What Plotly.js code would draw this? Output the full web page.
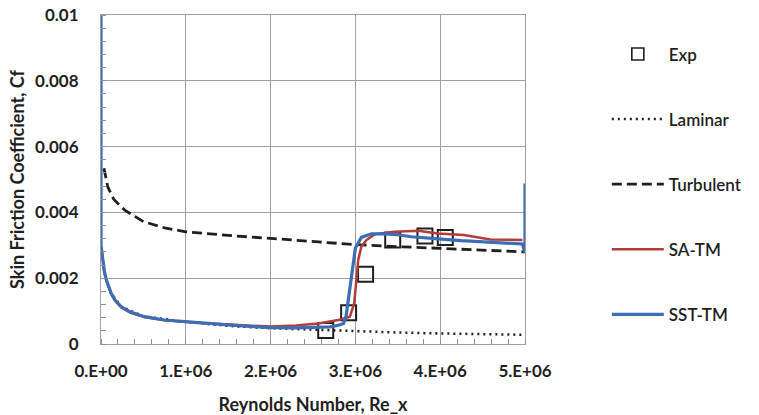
<!DOCTYPE html>
<html>
<head>
<meta charset="utf-8">
<script src="https://cdn.plot.ly/plotly-3.0.1.min.js"></script>
<style>
  html, body { margin: 0; padding: 0; background: #ffffff; }
  #chart { width: 759px; height: 415px; }
</style>
</head>
<body>
<div id="chart"></div>
<script>
// Flat-plate skin friction: experiment, laminar / turbulent correlations and two transition models
const expRe = [2.65e6, 2.92e6, 3.12e6, 3.44e6, 3.82e6, 4.06e6];
const expCf = [0.00041, 0.00095, 0.00212, 0.00316, 0.00328, 0.00324];

const lamRe = [0.06e6, 0.12e6, 0.24e6, 0.5e6, 1.0e6, 1.5e6, 2.0e6, 2.5e6, 3.0e6, 3.5e6, 4.0e6, 4.5e6, 5.0e6];
const lamCf = [0.00195, 0.00154, 0.00113, 0.00084, 0.00067, 0.00055, 0.00048, 0.00043, 0.00038, 0.00035, 0.00032, 0.00030, 0.00028];

const turbRe = [0.035e6, 0.08e6, 0.15e6, 0.28e6, 0.5e6, 0.75e6, 1.0e6, 1.25e6, 1.5e6, 2.0e6, 2.5e6, 3.0e6, 3.5e6, 4.0e6, 4.5e6, 5.0e6];
const turbCf = [0.00534, 0.00478, 0.00440, 0.00407, 0.00372, 0.00353, 0.00341, 0.00335, 0.00330, 0.00321, 0.00312, 0.00302, 0.00296, 0.00290, 0.00285, 0.00280];

const saRe = [0.01e6, 0.023e6, 0.04e6, 0.063e6, 0.09e6, 0.12e6, 0.17e6, 0.24e6, 0.35e6, 0.51e6, 0.75e6, 0.98e6, 1.22e6, 1.5e6, 1.8e6, 2.0e6, 2.3e6, 2.56e6, 2.8e6, 2.935e6, 2.986e6, 3.013e6, 3.033e6, 3.07e6, 3.13e6, 3.23e6, 3.46e6, 3.74e6, 3.97e6, 4.28e6, 4.59e6, 4.97e6];
const saCf = [0.0028, 0.00253, 0.00218, 0.00193, 0.00170, 0.00152, 0.00130, 0.00111, 0.00095, 0.00082, 0.00072, 0.00067, 0.00063, 0.00059, 0.00055, 0.00053, 0.00056, 0.00062, 0.00073, 0.00083, 0.00124, 0.00195, 0.00255, 0.00296, 0.00316, 0.00334, 0.00341, 0.00344, 0.00336, 0.00331, 0.00318, 0.00316];

const sstRe = [0, 0, 0.01e6, 0.023e6, 0.04e6, 0.063e6, 0.09e6, 0.12e6, 0.17e6, 0.24e6, 0.35e6, 0.51e6, 0.75e6, 0.98e6, 1.22e6, 1.5e6, 1.8e6, 2.0e6, 2.3e6, 2.56e6, 2.7e6, 2.8e6, 2.86e6, 2.89e6, 2.935e6, 2.975e6, 3.0e6, 3.07e6, 3.19e6, 3.35e6, 3.5e6, 3.66e6, 3.85e6, 4.05e6, 4.25e6, 4.44e6, 4.7e6, 4.97e6, 5.0e6, 5.0e6];
const sstCf = [0.0105, 0.0030, 0.0028, 0.00255, 0.0022, 0.00195, 0.00172, 0.00154, 0.00132, 0.00113, 0.00097, 0.00083, 0.00073, 0.00068, 0.00064, 0.00058, 0.00053, 0.00050, 0.00049, 0.00050, 0.00052, 0.00057, 0.00062, 0.00085, 0.00164, 0.00245, 0.00292, 0.00324, 0.00335, 0.00335, 0.00332, 0.00326, 0.00321, 0.00318, 0.00314, 0.00311, 0.00307, 0.00304, 0.00277, 0.00488];

const xTickVals = [0, 1e6, 2e6, 3e6, 4e6, 5e6];
const xTickText = ['0.E+00', '1.E+06', '2.E+06', '3.E+06', '4.E+06', '5.E+06'];
const yTickVals = [0, 0.002, 0.004, 0.006, 0.008, 0.01];
const yTickText = ['0', '0.002', '0.004', '0.006', '0.008', '0.01'];

const FONT = 'Lato, "Open Sans", sans-serif';
const GRID = '#a0a0a0';
const INK = '#1f1f1f';

const traces = [
  {
    // legend key for the experimental points (smaller box than on the plot)
    x: [null], y: [null], name: 'Exp', type: 'scatter', mode: 'markers',
    legendgroup: 'g1', hoverinfo: 'skip',
    marker: { symbol: 'square-open', size: 12, color: INK, line: { width: 1.6, color: INK } }
  },
  {
    x: expRe, y: expCf, name: 'Exp', type: 'scatter', mode: 'markers',
    legendgroup: 'g1', showlegend: false,
    marker: { symbol: 'square-open', size: 15, color: INK, line: { width: 2, color: INK } }
  },
  {
    x: lamRe, y: lamCf, name: 'Laminar', type: 'scatter', mode: 'lines',
    legendgroup: 'g2',
    line: { color: INK, width: 2.5, dash: '2px,4px' }
  },
  {
    x: turbRe, y: turbCf, name: 'Turbulent', type: 'scatter', mode: 'lines',
    legendgroup: 'g3', line: { color: INK, width: 2.8, dash: '10px,5px' }
  },
  {
    x: saRe, y: saCf, name: 'SA-TM', type: 'scatter', mode: 'lines',
    legendgroup: 'g4', line: { color: '#b23c3a', width: 2.5 }
  },
  {
    x: sstRe, y: sstCf, name: 'SST-TM', type: 'scatter', mode: 'lines',
    legendgroup: 'g5', line: { color: '#3d6db4', width: 3.2 }
  }
];

const layout = {
  width: 759, height: 415,
  margin: { l: 101, r: 232, t: 15, b: 71 },
  paper_bgcolor: '#ffffff', plot_bgcolor: '#ffffff',
  font: { family: FONT, color: INK, size: 16 },
  showlegend: true,
  legend: {
    x: 1.193, xanchor: 'left', y: 0.935, yanchor: 'top',
    traceorder: 'grouped', tracegroupgap: 40, itemwidth: 52,
    font: { family: FONT, size: 17, color: INK, weight: 600 },
    bgcolor: 'rgba(0,0,0,0)'
  },
  xaxis: {
    range: [0, 5e6], tickmode: 'array', tickvals: xTickVals, ticktext: xTickText,
    showgrid: true, gridcolor: GRID, gridwidth: 1,
    showline: true, linecolor: GRID, linewidth: 1, mirror: true, zeroline: false,
    ticks: '', ticklabelstandoff: 12,
    tickfont: { family: FONT, size: 17, color: INK, weight: 700 },
    minor: { tickmode: 'linear', tick0: 0, dtick: 2e5, ticks: 'inside', ticklen: 5, tickcolor: '#909090', showgrid: false },
    title: { text: 'Reynolds Number, Re_x', standoff: 17, font: { family: FONT, size: 18, color: INK, weight: 700 } },
    automargin: false
  },
  yaxis: {
    range: [0, 0.01], tickmode: 'array', tickvals: yTickVals, ticktext: yTickText,
    showgrid: true, gridcolor: GRID, gridwidth: 1,
    showline: true, linecolor: GRID, linewidth: 1, mirror: true, zeroline: false,
    ticks: '', ticklabelstandoff: 18,
    tickfont: { family: FONT, size: 17, color: INK, weight: 700 },
    minor: { tickmode: 'linear', tick0: 0, dtick: 0.0004, ticks: 'inside', ticklen: 5, tickcolor: '#909090', showgrid: false },
    title: { text: 'Skin Friction Coefficient, Cf', standoff: 5, font: { family: FONT, size: 18, color: INK, weight: 700 } },
    automargin: false
  }
};

Plotly.newPlot('chart', traces, layout, { displayModeBar: false, staticPlot: true });
</script>
</body>
</html>
